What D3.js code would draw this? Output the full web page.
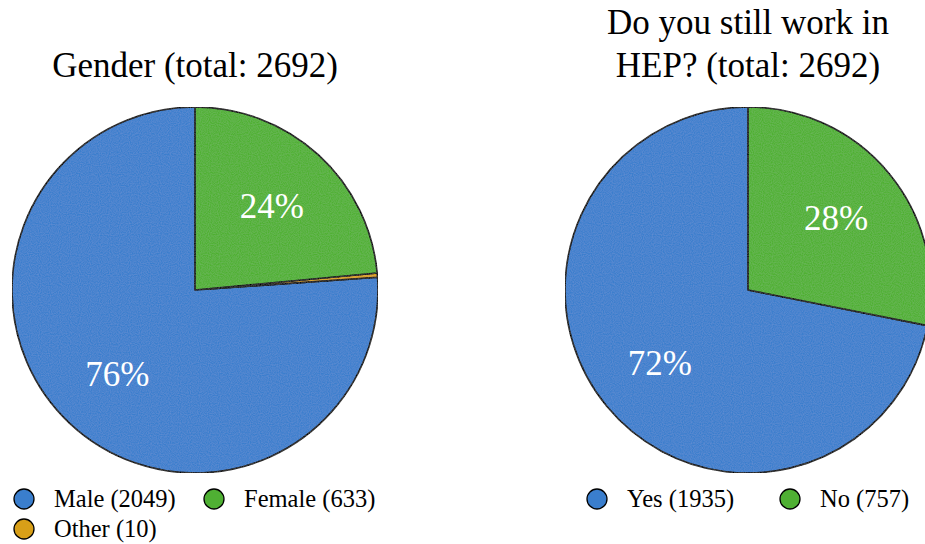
<!DOCTYPE html>
<html>
<head>
<meta charset="utf-8">
<script src="https://cdn.jsdelivr.net/npm/d3@7"></script>
<style>
body { margin: 0; background: #fff; }
</style>
</head>
<body>
<script>
// gender question
var genderLabels = ["Male", "Female", "Other"];
var genderValues = [2049, 633, 10];
// still in HEP question
var hepLabels = ["Yes", "No"];
var hepValues = [1935, 757];

var colors = { Male: "#3a7ecd", Yes: "#3a7ecd", Female: "#4fb033", No: "#4fb033", Other: "#d89f18" };
var serif = "'Liberation Serif', 'Times New Roman', Times, serif";

var width = 925, height = 544, radius = 183;

var svg = d3.select("body").append("svg")
  .attr("width", width)
  .attr("height", height)
  .attr("font-family", serif);

// grainy fill like the original
var filt = svg.append("defs").append("filter")
  .attr("id", "grain")
  .attr("x", 0).attr("y", 0).attr("width", 1).attr("height", 1);
filt.append("feTurbulence")
  .attr("type", "fractalNoise")
  .attr("baseFrequency", 0.9)
  .attr("numOctaves", 1)
  .attr("seed", 3)
  .attr("result", "noise");
filt.append("feColorMatrix")
  .attr("in", "noise")
  .attr("type", "matrix")
  .attr("values", "0 0 0 0 1  0 0 0 0 1  0 0 0 0 1  0 0 0 0.12 -0.03")
  .attr("result", "speck");
filt.append("feComposite")
  .attr("in", "speck")
  .attr("in2", "SourceGraphic")
  .attr("operator", "in")
  .attr("result", "speckIn");
var merge = filt.append("feMerge");
merge.append("feMergeNode").attr("in", "SourceGraphic");
merge.append("feMergeNode").attr("in", "speckIn");

// slices run counter-clockwise from 12 o'clock
var pie = d3.pie()
  .sort(null)
  .startAngle(0)
  .endAngle(-2 * Math.PI)
  .value(function(d) { return d.value; });

var arc = d3.arc().innerRadius(0).outerRadius(radius);
var labelArc = d3.arc().innerRadius(114).outerRadius(114);

function drawPie(cx, cy, labels, values, order, titleLines, legendPos) {
  var data = order.map(function(name) {
    return { name: name, value: values[labels.indexOf(name)] };
  });
  var total = d3.sum(values);

  var g = svg.append("g").attr("transform", "translate(" + cx + "," + cy + ")");

  var slices = g.selectAll(".arc")
    .data(pie(data))
    .enter().append("g")
    .attr("class", "arc");

  slices.append("path")
    .attr("d", arc)
    .attr("fill", function(d) { return colors[d.data.name]; })
    .attr("stroke", "#000")
    .attr("stroke-width", 1.6)
    .attr("stroke-linejoin", "round")
    .attr("filter", "url(#grain)");

  slices.filter(function(d) { return d.data.value / total > 0.05; })
    .append("text")
    .attr("transform", function(d) { return "translate(" + labelArc.centroid(d) + ")"; })
    .attr("text-anchor", "middle")
    .attr("dy", "0.35em")
    .attr("fill", "#fff")
    .attr("font-family", serif)
    .style("font-size", "35px")
    .text(function(d) { return Math.round(d.data.value / total * 100) + "%"; });

  titleLines.forEach(function(t, i) {
    svg.append("text")
      .attr("x", cx)
      .attr("y", 77 - (titleLines.length - 1 - i) * 43)
      .attr("text-anchor", "middle")
      .attr("font-family", serif)
      .style("font-size", "35px")
      .attr("fill", "#000")
      .text(t);
  });

  var lg = svg.append("g");
  labels.forEach(function(name, i) {
    var p = legendPos[i];
    lg.append("circle")
      .attr("cx", p[0])
      .attr("cy", p[1])
      .attr("r", 10)
      .attr("fill", colors[name])
      .attr("stroke", "#000")
      .attr("stroke-width", 1.3);
    lg.append("text")
      .attr("x", p[0] + 30)
      .attr("y", p[1] + 8)
      .attr("font-family", serif)
      .style("font-size", "24.5px")
      .attr("fill", "#000")
      .text(name + " (" + values[i] + ")");
  });
}

drawPie(195, 290, genderLabels, genderValues, ["Male", "Other", "Female"],
  ["Gender (total: " + d3.sum(genderValues) + ")"],
  [[24, 499], [214, 499], [24, 529]]);

drawPie(748, 290, hepLabels, hepValues, ["Yes", "No"],
  ["Do you still work in", "HEP? (total: " + d3.sum(hepValues) + ")"],
  [[597, 499], [790, 499]]);
</script>
</body>
</html>
